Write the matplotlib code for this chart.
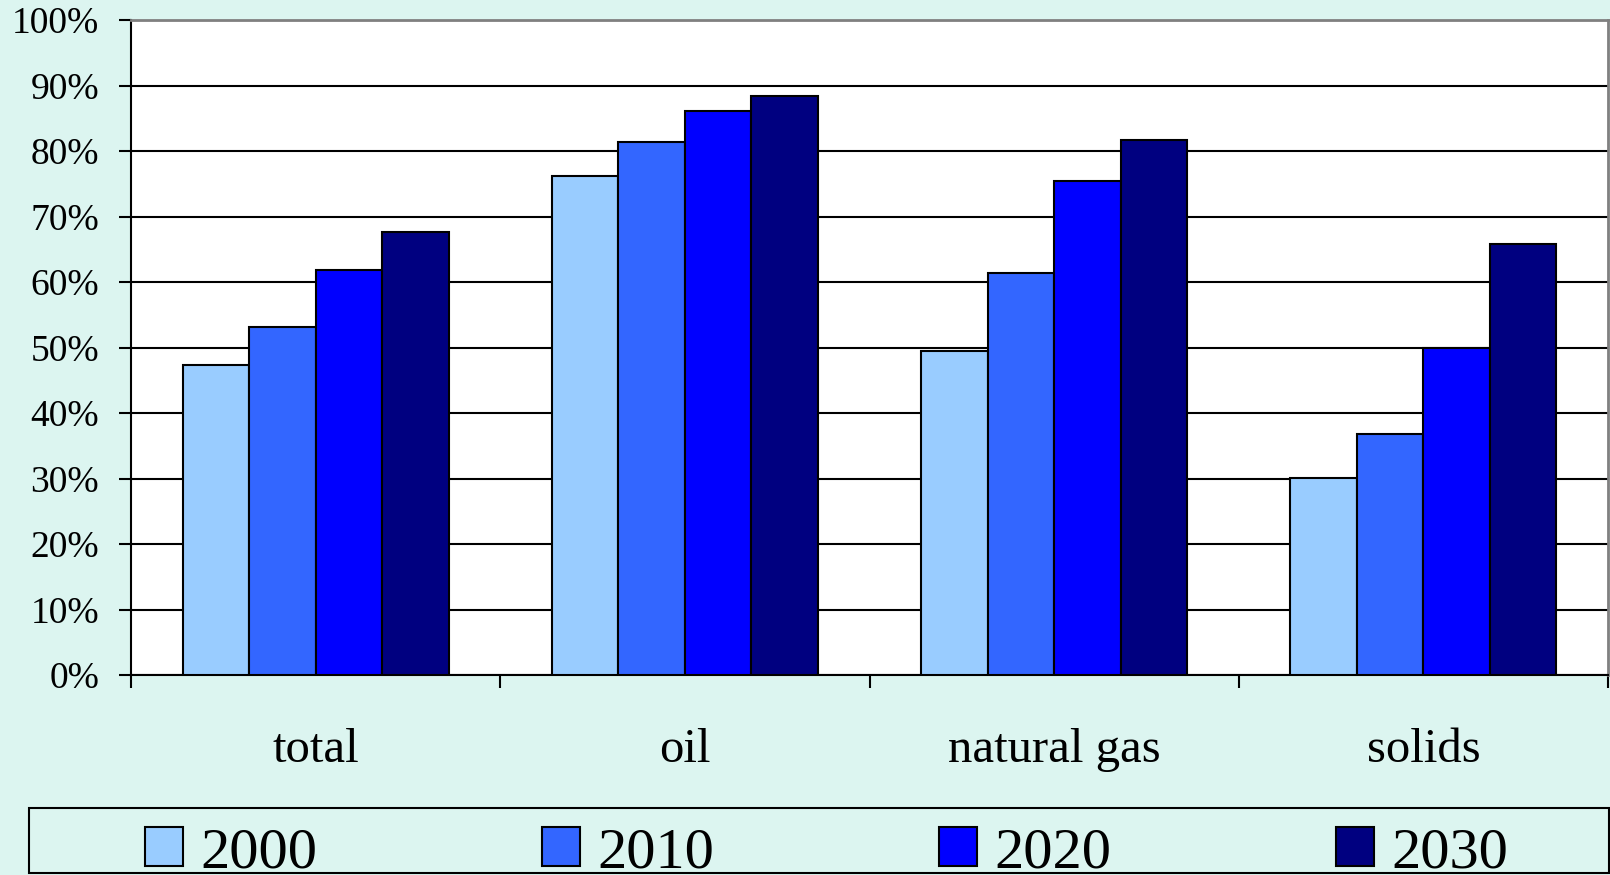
import matplotlib.pyplot as plt
import numpy as np
from matplotlib.patches import Rectangle

categories = ["total", "oil", "natural gas", "solids"]
years = ["2000", "2010", "2020", "2030"]
v2000 = [47.3, 76.2, 49.5, 30.1]
v2010 = [53.1, 81.3, 61.3, 36.8]
v2020 = [61.9, 86.1, 75.4, 50.0]
v2030 = [67.6, 88.4, 81.7, 65.8]
yticks = [0, 10, 20, 30, 40, 50, 60, 70, 80, 90, 100]

series = [v2000, v2010, v2020, v2030]
colors = ['#99CCFF', '#3366FF', '#0000FF', '#000080']
bg = '#dcf5f0'

plt.rcParams['font.family'] = ['Liberation Serif', 'DejaVu Serif']

fig = plt.figure(figsize=(16.1, 8.75), dpi=100, facecolor=bg)
ax = fig.add_axes([131/1610, 200/875, 1477/1610, 655/875])
ax.set_facecolor('white')

x = np.arange(len(categories)) + 0.5
w = 0.18
for i, (vals, c, yr) in enumerate(zip(series, colors, years)):
    ax.bar(x + (i - 1.5) * w, vals, w, color=c, edgecolor='black',
           linewidth=1.5, label=yr, zorder=3)

ax.set_xlim(0, 4)
ax.set_ylim(0, 100)
ax.set_yticks(yticks)
ax.set_yticklabels([str(t) + "%" for t in yticks], fontsize=27)
ax.yaxis.grid(True, color='black', linewidth=1.5, zorder=0)
ax.set_axisbelow(True)

# category borders as major ticks, labels on minor ticks
ax.set_xticks([0, 1, 2, 3, 4])
ax.set_xticklabels([])
ax.set_xticks(x, minor=True)
ax.set_xticklabels(categories, minor=True, fontsize=35)
ax.tick_params(axis='x', which='minor', length=0, pad=38)
ax.tick_params(axis='both', which='major', direction='out', length=9,
               width=1.5, color='black')
ax.tick_params(axis='y', pad=14)

for s in ['left', 'bottom']:
    ax.spines[s].set_color('black')
    ax.spines[s].set_linewidth(1.5)
for s in ['top', 'right']:
    ax.spines[s].set_color('#808080')
    ax.spines[s].set_linewidth(2)

# legend box (the legend row is cut by the bottom edge, as in the original)
fig.patches.append(Rectangle((29/1610, 2/875), 1580/1610, 65/875,
                             transform=fig.transFigure, facecolor='none',
                             edgecolor='black', linewidth=1.5))
fig.legend(loc='center', bbox_to_anchor=(827/1610, 22/875), ncol=4,
           frameon=False, fontsize=42, handlelength=0.65, handleheight=0.64,
           handletextpad=0.3, columnspacing=3.85, borderpad=0)

fig.savefig("out.png", dpi=100, facecolor=bg)
